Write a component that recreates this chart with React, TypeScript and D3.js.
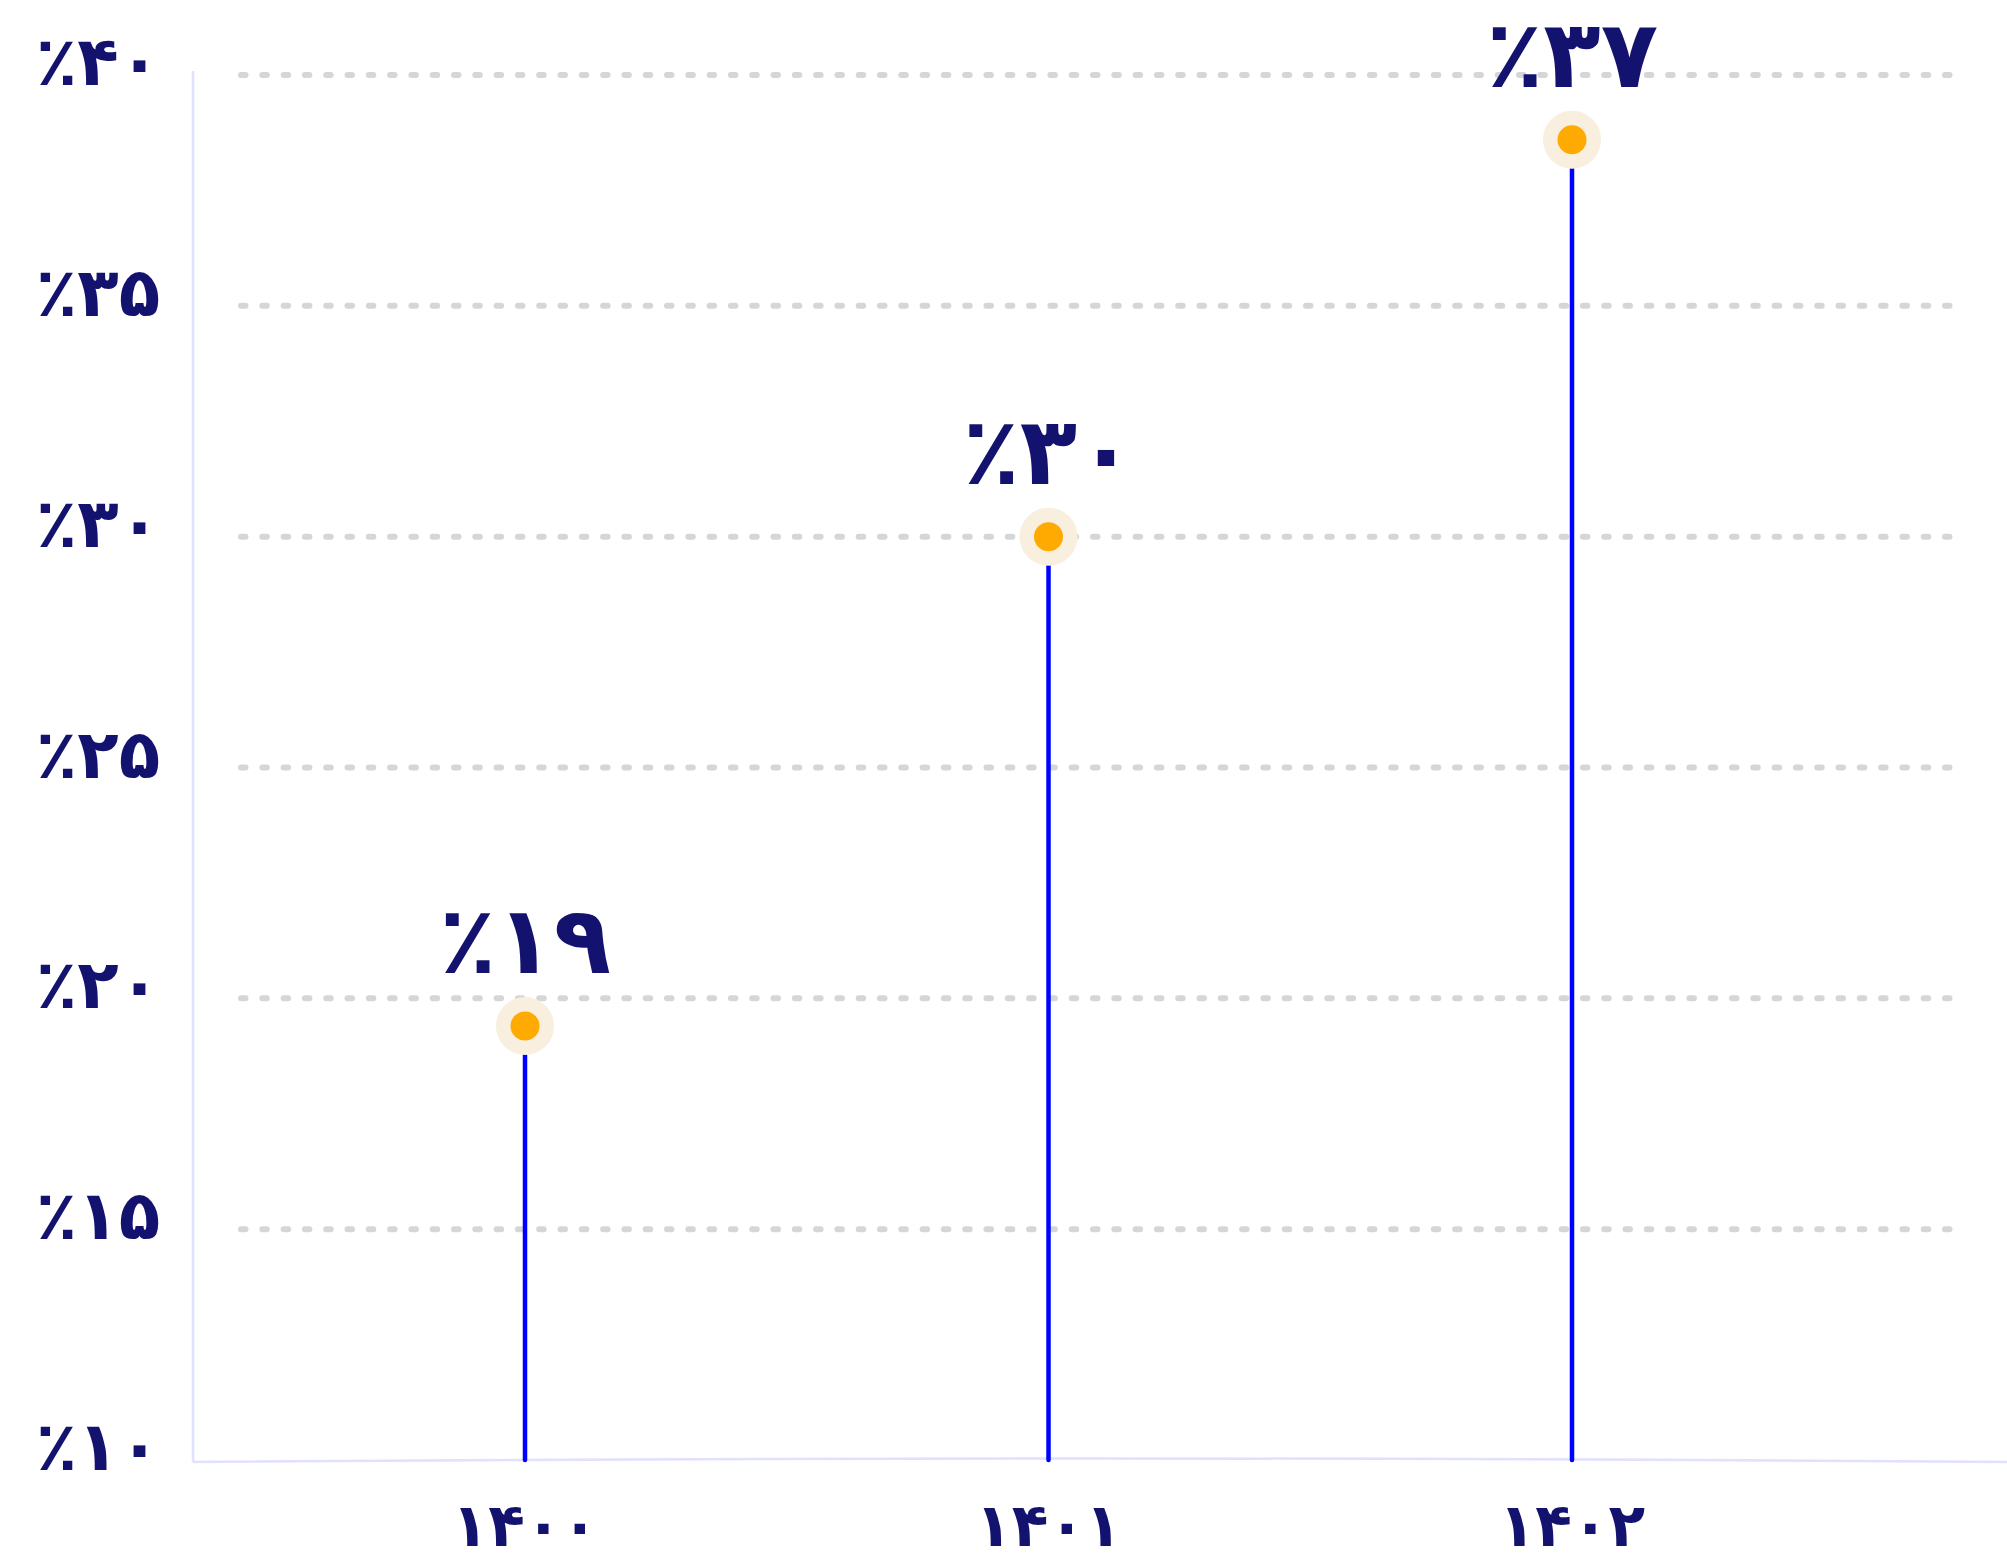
import React from "react";
import * as d3 from "d3";

const years = ["۱۴۰۰", "۱۴۰۱", "۱۴۰۲"];
const pointValues = [19.4, 30, 38.6];
const valueLabels = ["٪۱۹", "٪۳۰", "٪۳۷"];
const yTicks = [10, 15, 20, 25, 30, 35, 40];
const yTickLabels = ["٪۱۰", "٪۱۵", "٪۲۰", "٪۲۵", "٪۳۰", "٪۳۵", "٪۴۰"];

const W = 2007;
const H = 1568;
const TEXT = "#13136f";
const FONT = "'DejaVu Sans', sans-serif";

export default function App() {
  const x = d3.scalePoint<string>().domain(years).range([525, 1572]);
  const y = d3.scaleLinear().domain([10, 40]).range([1460, 75]);
  const axisX = 193;
  const baseY = y(10);

  const base = d3.path();
  base.moveTo(axisX, baseY + 2);
  base.quadraticCurveTo((axisX + W) / 2, baseY - 5, W, baseY + 2);

  return (
    <div style={{ position: "absolute", left: 0, top: 0 }}>
      <svg width={W} height={H} style={{ display: "block", background: "#fff" }}>
        {yTicks.slice(1).map((t) => (
          <line
            key={"g" + t}
            x1={241}
            x2={1953}
            y1={y(t)}
            y2={y(t)}
            stroke="#d6d6d6"
            strokeWidth={6}
            strokeLinecap="round"
            strokeDasharray="4.5 16.8"
          />
        ))}
        <line x1={axisX} x2={axisX} y1={y(40) - 4} y2={baseY + 2} stroke="#e0e0ff" strokeWidth={2.5} />
        <path d={base.toString()} fill="none" stroke="#e0e0ff" strokeWidth={2.5} />
        {yTicks.map((t, i) => (
          <text
            key={"yl" + t}
            x={98}
            y={y(t) + 10}
            textAnchor="middle"
            fontFamily={FONT}
            fontWeight="bold"
            fontSize={68}
            fill={TEXT}
          >
            {yTickLabels[i]}
          </text>
        ))}
        {years.map((yr, i) => {
          const cx = x(yr)!;
          const cy = y(pointValues[i]);
          return (
            <g key={yr}>
              <line x1={cx} x2={cx} y1={baseY} y2={cy + 29} stroke="#0000ff" strokeWidth={4.5} strokeLinecap="round" />
              <circle cx={cx} cy={cy} r={29} fill="#f8efdf" />
              <circle cx={cx} cy={cy} r={14.5} fill="#ffaa00" />
              <text
                x={cx}
                y={cy - 53}
                textAnchor="middle"
                fontFamily={FONT}
                fontWeight="bold"
                fontSize={94}
                fill={TEXT}
              >
                {valueLabels[i]}
              </text>
              <text
                x={cx}
                y={1546}
                textAnchor="middle"
                fontFamily={FONT}
                fontWeight="bold"
                fontSize={60}
                fill={TEXT}
              >
                {yr}
              </text>
            </g>
          );
        })}
      </svg>
    </div>
  );
}
